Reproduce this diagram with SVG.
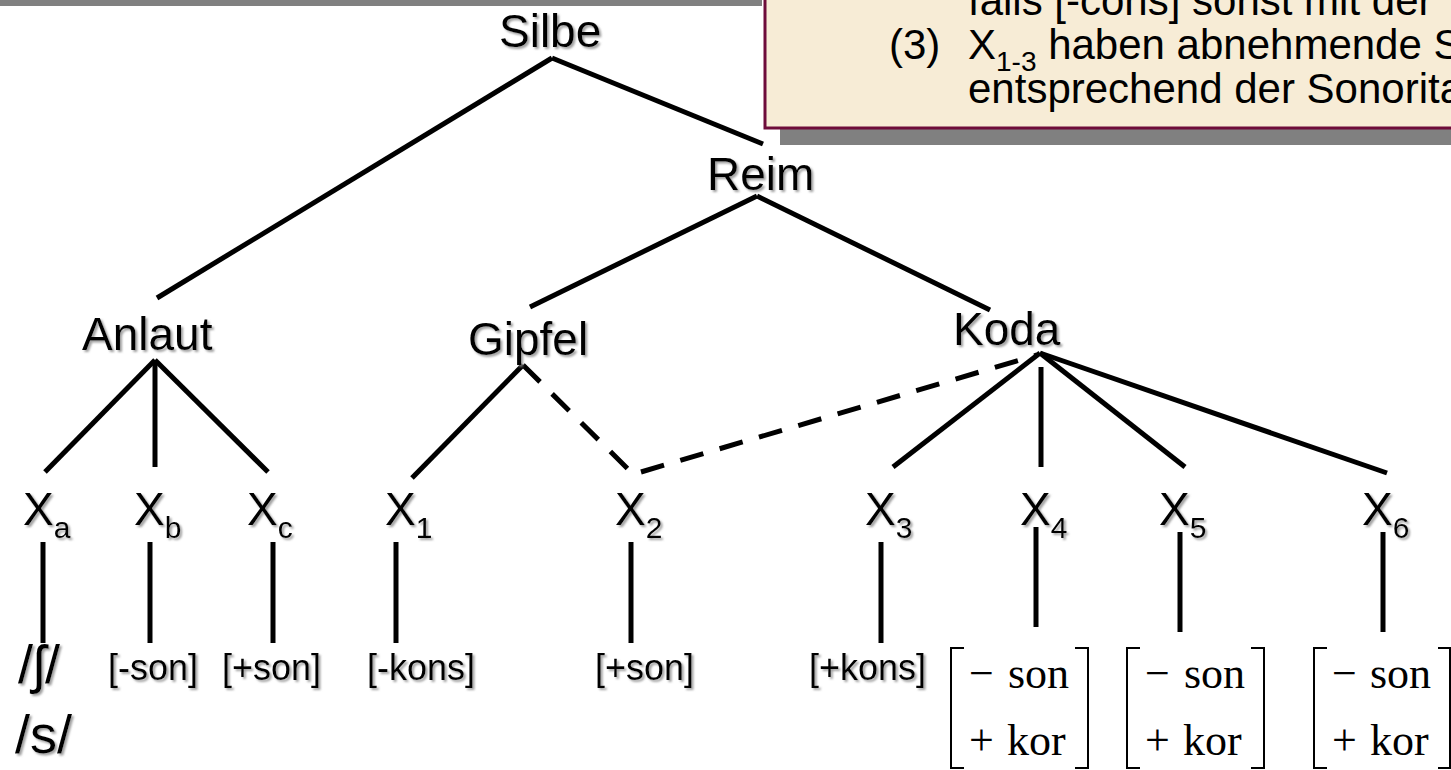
<svg xmlns="http://www.w3.org/2000/svg" width="1451" height="770" viewBox="0 0 1451 770">
<defs>
<filter id="sh" x="-10%" y="-10%" width="130%" height="140%">
<feDropShadow dx="2" dy="2" stdDeviation="0.8" flood-color="#888" flood-opacity="0.8"/>
</filter>
</defs>
<style>
.lbl{font-family:"Liberation Sans",Arial,sans-serif;font-size:46px;fill:#000;filter:url(#sh)}
.feat{font-family:"Liberation Sans",Arial,sans-serif;font-size:36px;fill:#000;filter:url(#sh)}
.ph{font-family:"Liberation Sans",Arial,sans-serif;font-size:54px;fill:#000;filter:url(#sh)}
.box{font-family:"Liberation Sans",Arial,sans-serif;font-size:42px;fill:#000}
.mat{font-family:"Liberation Serif","Times New Roman",serif;font-size:44px;fill:#000}
.sub{font-size:30px}
.ln{stroke:#000;stroke-width:5;fill:none}
.dash{stroke:#000;stroke-width:5;fill:none;stroke-dasharray:24 17}
.br{stroke:#000;stroke-width:2;fill:none}
</style>
<rect x="0" y="0" width="1451" height="770" fill="#fff"/>
<rect x="0" y="0" width="762" height="6" fill="#808080"/>
<g id="note">
<rect x="780" y="-10" width="700" height="155" fill="#808080"/>
<rect x="765" y="-10" width="700" height="138" fill="#f7ecd6" stroke="#6e0c3a" stroke-width="3"/>
<text class="box" x="968" y="15">falls [-cons] sonst mit der</text>
<text class="box" x="889" y="59">(3)</text>
<text class="box" x="968" y="59">X<tspan font-size="28" dy="12">1-3</tspan><tspan dy="-12"> haben abnehmende S</tspan></text>
<text class="box" x="968" y="103">entsprechend der Sonorita</text>
</g>
<g id="connectors">
<line class="ln" x1="552" y1="58" x2="157" y2="298"/>
<line class="ln" x1="552" y1="58" x2="763" y2="144"/>
<line class="ln" x1="757" y1="196" x2="530" y2="307"/>
<line class="ln" x1="757" y1="196" x2="990" y2="310"/>
<line class="ln" x1="155" y1="360" x2="45" y2="472"/>
<line class="ln" x1="155" y1="360" x2="155" y2="467"/>
<line class="ln" x1="155" y1="360" x2="268" y2="472"/>
<line class="ln" x1="523" y1="365" x2="412" y2="478"/>
<line class="dash" x1="523" y1="365" x2="633" y2="474"/>
<line class="dash" x1="641" y1="472" x2="1037" y2="355"/>
<line class="ln" x1="1040" y1="353" x2="893" y2="467"/>
<line class="ln" x1="1041" y1="367" x2="1041" y2="467"/>
<line class="ln" x1="1040" y1="353" x2="1185" y2="467"/>
<line class="ln" x1="1040" y1="353" x2="1387" y2="473"/>
<line class="ln" x1="43" y1="542" x2="43" y2="643"/>
<line class="ln" x1="150" y1="542" x2="150" y2="643"/>
<line class="ln" x1="273" y1="542" x2="273" y2="643"/>
<line class="ln" x1="396" y1="542" x2="396" y2="643"/>
<line class="ln" x1="631" y1="542" x2="631" y2="643"/>
<line class="ln" x1="881" y1="542" x2="881" y2="643"/>
<line class="ln" x1="1036" y1="527" x2="1036" y2="627"/>
<line class="ln" x1="1180" y1="532" x2="1180" y2="632"/>
<line class="ln" x1="1383" y1="532" x2="1383" y2="632"/>
</g>
<g id="silbe"><text class="lbl" x="499" y="47">Silbe</text></g>
<g id="reim"><text class="lbl" x="707" y="190">Reim</text></g>
<g id="anlaut"><text class="lbl" x="82" y="350">Anlaut</text></g>
<g id="gipfel"><text class="lbl" x="468" y="355">Gipfel</text></g>
<g id="koda"><text class="lbl" x="953" y="345">Koda</text></g>
<g id="xa"><text class="lbl" x="23" y="525">X<tspan class="sub" dy="13">a</tspan></text></g>
<g id="xb"><text class="lbl" x="134" y="525">X<tspan class="sub" dy="13">b</tspan></text></g>
<g id="xc"><text class="lbl" x="247" y="525">X<tspan class="sub" dy="13">c</tspan></text></g>
<g id="x1"><text class="lbl" x="385" y="525">X<tspan class="sub" dy="13">1</tspan></text></g>
<g id="x2"><text class="lbl" x="615" y="525">X<tspan class="sub" dy="13">2</tspan></text></g>
<g id="x3"><text class="lbl" x="865" y="525">X<tspan class="sub" dy="13">3</tspan></text></g>
<g id="x4"><text class="lbl" x="1020" y="525">X<tspan class="sub" dy="13">4</tspan></text></g>
<g id="x5"><text class="lbl" x="1159" y="525">X<tspan class="sub" dy="13">5</tspan></text></g>
<g id="x6"><text class="lbl" x="1362" y="525">X<tspan class="sub" dy="13">6</tspan></text></g>
<g id="fa"><text class="ph" x="18" y="683">/ʃ/</text><text class="ph" x="15" y="753">/s/</text></g>
<g id="fb"><text class="feat" x="108" y="680">[-son]</text></g>
<g id="fc"><text class="feat" x="222" y="680">[+son]</text></g>
<g id="f1"><text class="feat" x="367" y="680">[-kons]</text></g>
<g id="f2"><text class="feat" x="595" y="680">[+son]</text></g>
<g id="f3"><text class="feat" x="809" y="680">[+kons]</text></g>
<g id="f4">
<path class="br" d="M964,648 H951 V768 H964 M1075,648 H1088 V768 H1075"/>
<text class="mat" y="688"><tspan x="969">−</tspan><tspan x="1008">son</tspan></text>
<text class="mat" y="755"><tspan x="969">+</tspan><tspan x="1007">kor</tspan></text>
</g>
<g id="f5">
<path class="br" d="M1140,648 H1127 V768 H1140 M1251,648 H1264 V768 H1251"/>
<text class="mat" y="688"><tspan x="1145">−</tspan><tspan x="1184">son</tspan></text>
<text class="mat" y="755"><tspan x="1145">+</tspan><tspan x="1183">kor</tspan></text>
</g>
<g id="f6">
<path class="br" d="M1327,648 H1314 V768 H1327 M1438,648 H1450 V768 H1438"/>
<text class="mat" y="688"><tspan x="1332">−</tspan><tspan x="1370">son</tspan></text>
<text class="mat" y="755"><tspan x="1332">+</tspan><tspan x="1370">kor</tspan></text>
</g>
</svg>
